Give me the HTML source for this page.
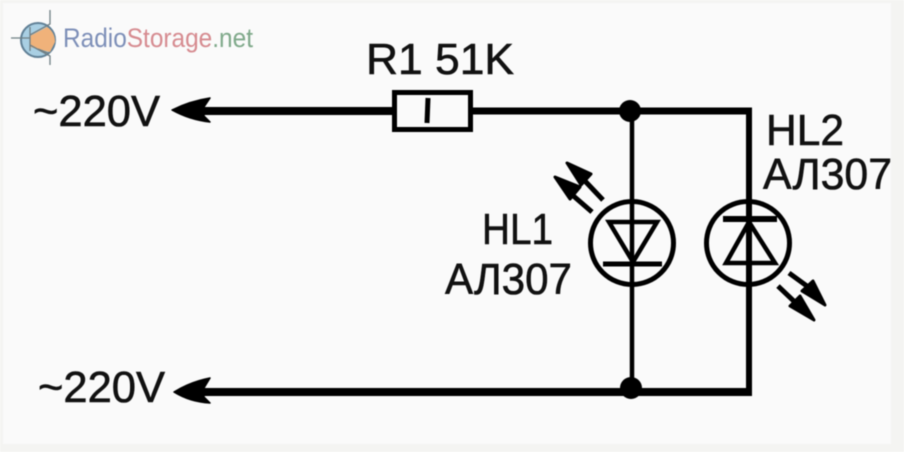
<!DOCTYPE html>
<html><head><meta charset="utf-8"><style>
html,body{margin:0;padding:0;background:#fff}
svg{display:block;filter:blur(.5px)}
text{font-family:"Liberation Sans",sans-serif}
</style></head><body>
<svg width="904" height="452" viewBox="0 0 904 452" xmlns="http://www.w3.org/2000/svg">
<rect width="904" height="452" fill="#f4f4f2"/>
<rect x="3" y="3" width="888" height="441" fill="#fafafa"/>
<!-- logo -->
<circle cx="38" cy="40" r="17" fill="#a9cfe3" stroke="#5f7f95" stroke-width="2"/>
<path d="M30 36 L47 27 A17 17 0 0 1 55 42 L50 52 L30 47Z" fill="#f0b27a"/>
<path d="M11 38H30M30 27V51M30 35L50 24V10M30 45L50 56V65M38 49L48 53" stroke="#6f7f85" stroke-width="1.3" fill="none"/>
<text x="63" y="47" font-size="27" textLength="190" lengthAdjust="spacingAndGlyphs"><tspan fill="#7d8fb8">Radio</tspan><tspan fill="#d68b90">Storage</tspan><tspan fill="#7fa98a">.net</tspan></text>
<!-- wires -->
<g fill="none" stroke="#000">
<path d="M195 111H393" stroke-width="8"/>
<path d="M470 111H752" stroke-width="7"/>
<path d="M195 392H752" stroke-width="8"/>
<path d="M632 111V392" stroke-width="4.5"/>
<path d="M749 108V396" stroke-width="6"/>
<rect x="394.500" y="92.500" width="76" height="37" stroke-width="5" fill="#fafafa"/>
<path d="M428 98L427 123" stroke-width="5"/>
<circle cx="632" cy="243" r="41.500" stroke-width="5"/>
<circle cx="748" cy="243" r="41.500" stroke-width="5"/>
<path d="M609 222H657L633 262Z" stroke-width="4.500"/>
<path d="M603 264H662" stroke-width="5"/>
<path d="M723 219H777" stroke-width="6"/>
<path d="M749 222L775 263H726Z" stroke-width="4.500"/>
<path d="M570 193L592 212M585 181L603 200M778 286L798 305M789 273L811 289" stroke-width="5"/>
</g>
<!-- arrowheads and dots -->
<g stroke="#000" stroke-width="1.500" stroke-linejoin="round">
<path d="M172 110Q190 101 210 98L204 107V116L210 122Q190 120 172 110Z"/>
<path d="M174 392Q190 382 210 378L204 388V397L210 403Q190 402 174 392Z"/>
</g>
<circle cx="630" cy="111" r="11"/>
<circle cx="631" cy="388" r="11"/>
<g stroke="#000" stroke-width="3" stroke-linejoin="round">
<path d="M555 177L580 187L570 199ZM567 163L591 174L581 185Z"/>
<path d="M814 320L800 296L790 306ZM825 305L813 281L802 291Z"/>
</g>
<!-- labels -->
<g fill="#111" stroke="#111" stroke-width=".6" font-size="44">
<text x="366" y="74" textLength="148" lengthAdjust="spacingAndGlyphs">R1 51K</text>
<text x="33" y="126" textLength="127" lengthAdjust="spacingAndGlyphs">~220V</text>
<text x="38" y="402" textLength="127" lengthAdjust="spacingAndGlyphs">~220V</text>
<text x="482" y="244" textLength="71" lengthAdjust="spacingAndGlyphs">HL1</text>
<text x="445" y="294" textLength="127" lengthAdjust="spacingAndGlyphs">АЛ307</text>
<text x="766" y="145" textLength="78" lengthAdjust="spacingAndGlyphs">HL2</text>
<text x="763" y="189" textLength="129" lengthAdjust="spacingAndGlyphs">АЛ307</text>
</g>
</svg>
</body></html>
